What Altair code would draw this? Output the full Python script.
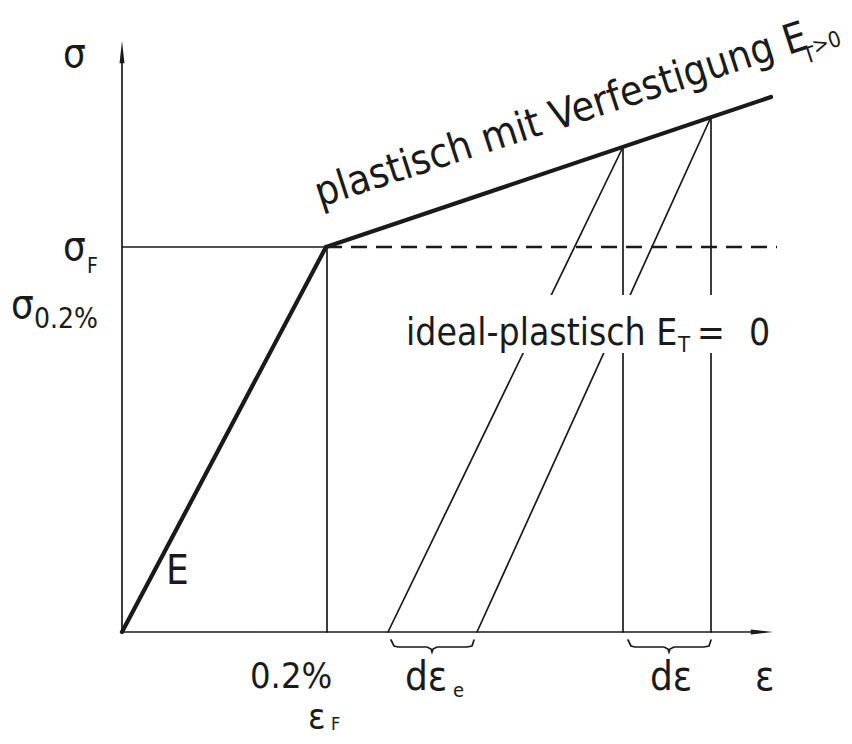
import altair as alt
import pandas as pd

INK = "#1a1a1a"
FONT = "DejaVu Sans Condensed"

# ---------------- data (drawing units: strain -> right, stress -> up) -------------
eps_F, sig_F = 204, 385            # yield point (0.2 %, sigma_F)
eps_end, sig_end = 649, 535        # end of hardening line
eps_dash_end = 655                 # end of ideal-plastic dashed line
eps_axis_end, sig_axis_end = 640, 580

eps_load = [501, 589]              # two loading states on the hardening line
sig_load = [485, 515]
eps_unload = [266, 355]            # elastic unloading reaching sigma = 0

brace_shape_x = [0, 3, 7, 36, 40, 41, 42, 46, 76, 81, 83]
brace_shape_y = [-8, -14, -15, -15, -17, -20, -17, -15, -15, -14, -8]
brace_start = [269, 506]

# ---------------- line segments ----------------
def seg(name, xs, ys):
    return [{"seg": name, "i": k, "x": x, "y": y} for k, (x, y) in enumerate(zip(xs, ys))]

heavy = pd.DataFrame(
    seg("elastic", [0, eps_F], [0, sig_F]) +
    seg("hardening", [eps_F, eps_end], [sig_F, sig_end])
)

thin_rows = []
thin_rows += seg("xaxis", [0, eps_axis_end], [0, 0])
thin_rows += seg("yaxis", [0, 0], [0, sig_axis_end])
thin_rows += seg("sigF", [0, eps_F], [sig_F, sig_F])
thin_rows += seg("v02", [eps_F + 1, eps_F + 1], [0, sig_F])
for k in range(2):
    thin_rows += seg(f"v{k}", [eps_load[k], eps_load[k]], [0, sig_load[k]])
    thin_rows += seg(f"u{k}", [eps_load[k], eps_unload[k]], [sig_load[k], 0])
    thin_rows += seg(f"b{k}", [brace_start[k] + bx for bx in brace_shape_x], brace_shape_y)
thin = pd.DataFrame(thin_rows)

dashed = pd.DataFrame(seg("ideal", [eps_F, eps_dash_end], [sig_F, sig_F]))

arrow_up = pd.DataFrame({"x": [0], "y": [sig_axis_end]})
arrow_right = pd.DataFrame({"x": [eps_axis_end], "y": [0]})

mask = pd.DataFrame({"x": [278], "x2": [654], "y": [279], "y2": [337]})

ROT = 342
labels = pd.DataFrame([
    {"text": "σ", "x": -59, "y": 565, "size": 40, "angle": 0},
    {"text": "σ", "x": -59, "y": 372, "size": 40, "angle": 0},
    {"text": "F", "x": -35, "y": 359, "size": 21, "angle": 0},
    {"text": "σ", "x": -111, "y": 314, "size": 40, "angle": 0},
    {"text": "0.2%", "x": -88, "y": 304, "size": 28, "angle": 0},
    {"text": "E", "x": 44, "y": 48, "size": 40, "angle": 0},
    {"text": "ideal-plastisch E", "x": 284, "y": 287, "size": 37, "angle": 0},
    {"text": "T", "x": 556, "y": 280, "size": 22, "angle": 0},
    {"text": "=", "x": 575, "y": 287, "size": 37, "angle": 0},
    {"text": "0", "x": 627, "y": 287, "size": 37, "angle": 0},
    {"text": "0.2%", "x": 128, "y": -56, "size": 36, "angle": 0},
    {"text": "ε", "x": 186, "y": -97, "size": 36, "angle": 0},
    {"text": "F", "x": 209, "y": -98, "size": 18, "angle": 0},
    {"text": "dε", "x": 283, "y": -58, "size": 40, "angle": 0},
    {"text": "e", "x": 331, "y": -65, "size": 20, "angle": 0},
    {"text": "dε", "x": 528, "y": -58, "size": 40, "angle": 0},
    {"text": "ε", "x": 633, "y": -58, "size": 40, "angle": 0},
    {"text": "plastisch mit Verfestigung E", "x": 198, "y": 425, "size": 41, "angle": ROT},
    {"text": "T", "x": 684, "y": 568, "size": 22, "angle": ROT},
    {"text": ">0", "x": 693, "y": 578, "size": 22, "angle": ROT},
])

# ---------------- scales ----------------
X = dict(scale=alt.Scale(domain=[-114, 722], nice=False, zero=False), axis=None)
Y = dict(scale=alt.Scale(domain=[-104, 624], nice=False, zero=False), axis=None)

def lines(df, width, dash=None):
    kw = dict(color=INK, strokeWidth=width, strokeCap="round")
    if dash:
        kw["strokeDash"] = dash
        kw["strokeCap"] = "butt"
    return alt.Chart(df).mark_line(**kw).encode(
        x=alt.X("x:Q", **X), y=alt.Y("y:Q", **Y), detail="seg:N", order="i:Q"
    )

heavy_l = lines(heavy, 4.2)
thin_l = lines(thin, 1.7)
dash_l = lines(dashed, 2.6, [16, 9])

up = alt.Chart(arrow_up).mark_point(
    shape="M-0.22,1 L0,-1 L0.22,1 Z", filled=True, color=INK, opacity=1, size=500
).encode(x=alt.X("x:Q", **X), y=alt.Y("y:Q", **Y))
right = alt.Chart(arrow_right).mark_point(
    shape="M-1,-0.22 L1,0 L-1,0.22 Z", filled=True, color=INK, opacity=1, size=500
).encode(x=alt.X("x:Q", **X), y=alt.Y("y:Q", **Y))

mask_r = alt.Chart(mask).mark_rect(color="white").encode(
    x=alt.X("x:Q", **X), x2="x2:Q", y=alt.Y("y:Q", **Y), y2="y2:Q"
)

text = alt.Chart(labels).mark_text(
    align="left", baseline="alphabetic", font=FONT, color=INK
).encode(
    x=alt.X("x:Q", **X), y=alt.Y("y:Q", **Y), text="text:N",
    size=alt.Size("size:Q", scale=None), angle=alt.Angle("angle:Q", scale=None)
)

chart = alt.layer(thin_l, dash_l, heavy_l, up, right, mask_r, text).properties(
    width=836, height=728, padding=0, autosize="none", background="white"
).configure_view(stroke=None)

chart.save("out.html", embed_options={"renderer": "svg", "actions": False})
